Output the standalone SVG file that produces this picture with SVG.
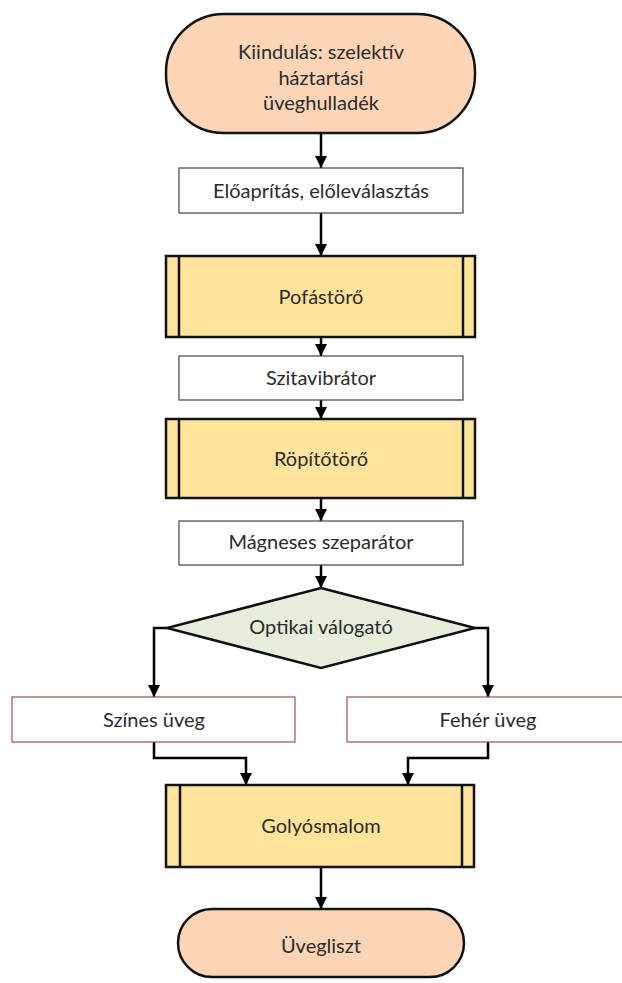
<svg xmlns="http://www.w3.org/2000/svg" width="622" height="983" viewBox="0 0 622 983">
<defs>
<style>
.term{fill:#FBD5B5;stroke:#111;stroke-width:2.5}
.proc{fill:#fff;stroke:#444;stroke-width:1.2}
.sel{fill:#fff;stroke:#A05050;stroke-width:1.2}
.pre{fill:#FEE39B;stroke:#111;stroke-width:2.5}
.dec{fill:#E6EDDB;stroke:#111;stroke-width:2.5}
.t{font-family:Lato,"Open Sans","Liberation Sans",sans-serif;font-size:20px;fill:#2b2b2b;text-anchor:middle}
.c{fill:none;stroke:#000;stroke-width:2.5;marker-end:url(#ah)}
</style>
<marker id="ah" markerUnits="userSpaceOnUse" markerWidth="14" markerHeight="14" refX="12" refY="6" orient="auto">
<path d="M0,0 L12,6 L0,12 Z" fill="#000"/>
</marker>
</defs>
<g id="connectors">
<path class="c" d="M321,133 V168"/>
<path class="c" d="M321,213 V256"/>
<path class="c" d="M321,337 V356"/>
<path class="c" d="M321,400 V419"/>
<path class="c" d="M321,498 V521"/>
<path class="c" d="M321,565 V588"/>
<path class="c" d="M167,628 H154 V697"/>
<path class="c" d="M475,628 H488 V697"/>
<path class="c" d="M154,742 V758 H246 V785"/>
<path class="c" d="M488,742 V758 H408 V785"/>
<path class="c" d="M321,867 V909"/>
</g>
<g id="start">
<rect class="term" x="166" y="14" width="309" height="119" rx="58" ry="58"/>
<text class="t" x="321" y="59">Kiindulás: szelektív</text>
<text class="t" x="321" y="85">háztartási</text>
<text class="t" x="321" y="110">üveghulladék</text>
</g>
<g id="eloaprit">
<rect class="proc" x="179" y="168" width="284" height="45"/>
<text class="t" x="321" y="198">Előaprítás, előleválasztás</text>
</g>
<g id="pofastoro">
<rect class="pre" x="166" y="256" width="309" height="81"/>
<line x1="179" y1="256" x2="179" y2="337" stroke="#111" stroke-width="2.5"/>
<line x1="463" y1="256" x2="463" y2="337" stroke="#111" stroke-width="2.5"/>
<text class="t" x="321" y="304">Pofástörő</text>
</g>
<g id="szitavibrator">
<rect class="proc" x="179" y="356" width="284" height="44"/>
<text class="t" x="321" y="385">Szitavibrátor</text>
</g>
<g id="ropitotoro">
<rect class="pre" x="166" y="419" width="309" height="79"/>
<line x1="179" y1="419" x2="179" y2="498" stroke="#111" stroke-width="2.5"/>
<line x1="463" y1="419" x2="463" y2="498" stroke="#111" stroke-width="2.5"/>
<text class="t" x="321" y="466">Röpítőtörő</text>
</g>
<g id="magneses">
<rect class="proc" x="179" y="521" width="284" height="44"/>
<text class="t" x="321" y="549">Mágneses szeparátor</text>
</g>
<g id="optikai">
<polygon class="dec" points="321,588 475,628 321,668 167,628"/>
<text class="t" x="321" y="634">Optikai válogató</text>
</g>
<g id="szines">
<rect class="sel" x="12" y="697" width="283" height="45"/>
<text class="t" x="154" y="727">Színes üveg</text>
</g>
<g id="feher">
<rect class="sel" x="347" y="697" width="283" height="45"/>
<text class="t" x="488" y="727">Fehér üveg</text>
</g>
<g id="golyosmalom">
<rect class="pre" x="166" y="785" width="308" height="82"/>
<line x1="180" y1="785" x2="180" y2="867" stroke="#111" stroke-width="2.5"/>
<line x1="462" y1="785" x2="462" y2="867" stroke="#111" stroke-width="2.5"/>
<text class="t" x="321" y="833">Golyósmalom</text>
</g>
<g id="uvegliszt">
<rect class="term" x="178" y="909" width="286" height="68" rx="34" ry="34"/>
<text class="t" x="321" y="953">Üvegliszt</text>
</g>
</svg>
